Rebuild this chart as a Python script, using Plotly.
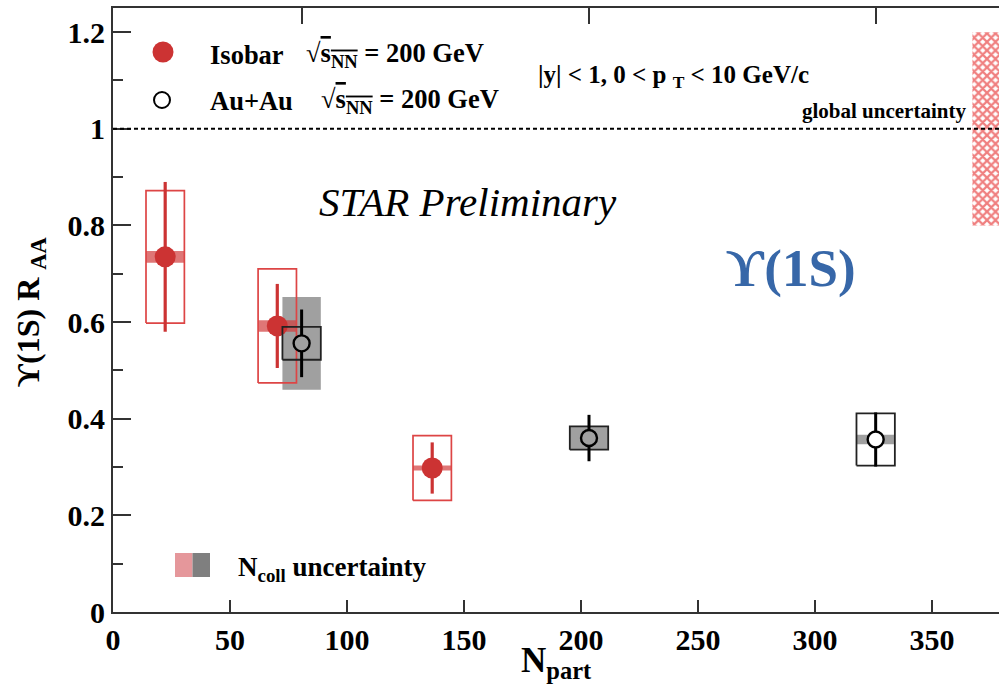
import plotly.graph_objects as go

# ---------------- data ----------------
iso_npart = [22.3, 70.2, 136.4]
iso_raa = [0.735, 0.592, 0.298]
iso_stat = [0.155, 0.087, 0.053]
iso_sys = [0.137, 0.118, 0.067]
iso_ncoll = [0.012, 0.012, 0.005]

au_npart = [80.6, 203.4, 325.9]
au_raa = [0.556, 0.360, 0.357]
au_stat = [0.070, 0.048, 0.056]
au_sys = [0.034, 0.024, 0.054]
au_ncoll = [0.096, 0.024, 0.010]

global_unc = [0.8, 1.2]          # low / high edge of global uncertainty band

x_ticks = [0, 50, 100, 150, 200, 250, 300, 350]
y_ticks = [0, 0.2, 0.4, 0.6, 0.8, 1.0, 1.2]

# ---------------- styles ----------------
FONT = "Liberation Serif"
RED = "#cc3333"
RED_BOX = "#dd4545"
RED_BAND = "rgba(210,60,60,0.7)"
GRAY_BAND = "#a0a0a0"
AXIS = "#333333"
BOX_HW = 8.2                     # half width of systematic boxes (Npart units)
X_MAX = 378.6
W, H = 999, 685
ML, MR, MT, MB = 113, 0, 8, 73
PW, PH = W - ML - MR, H - MT - MB


def px(xp):
    return (xp - ML) / PW


def py(yp):
    return (H - MB - yp) / PH


def rects(xs, ys, hws, hhs):
    X, Y = [], []
    for xc, yc, hw, hh in zip(xs, ys, hws, hhs):
        X += [xc - hw, xc + hw, xc + hw, xc - hw, xc - hw, None]
        Y += [yc - hh, yc - hh, yc + hh, yc + hh, yc - hh, None]
    return X, Y


hw_iso = [BOX_HW] * len(iso_npart)
hw_au = [BOX_HW] * len(au_npart)

fig = go.Figure()

# global uncertainty (hatched)
fig.add_trace(go.Bar(
    x=[373.5], y=[global_unc[1] - global_unc[0]], base=[global_unc[0]], width=[12.5],
    marker=dict(color="white", line=dict(width=0),
                pattern=dict(shape="x", fgcolor="#e00000", bgcolor="white", size=6, solidity=0.6)),
    showlegend=False, hoverinfo="skip"))

# Au+Au Ncoll band (gray)
bx, by = rects(au_npart, au_raa, hw_au, au_ncoll)
fig.add_trace(go.Scatter(x=bx, y=by, mode="lines", fill="toself", fillcolor=GRAY_BAND,
                         line=dict(width=0, color=GRAY_BAND), showlegend=False, hoverinfo="skip"))

# Isobar Ncoll band (light red)
bx, by = rects(iso_npart, iso_raa, hw_iso, iso_ncoll)
fig.add_trace(go.Scatter(x=bx, y=by, mode="lines", fill="toself", fillcolor=RED_BAND,
                         line=dict(width=0, color=RED_BAND), showlegend=False, hoverinfo="skip"))

# Isobar systematic boxes
bx, by = rects(iso_npart, iso_raa, hw_iso, iso_sys)
fig.add_trace(go.Scatter(x=bx, y=by, mode="lines", line=dict(width=1.7, color=RED_BOX),
                         showlegend=False, hoverinfo="skip"))

# Isobar points
fig.add_trace(go.Scatter(
    x=iso_npart, y=iso_raa, mode="markers",
    marker=dict(symbol="circle", size=21, color=RED, line=dict(width=0)),
    error_y=dict(type="data", array=iso_stat, color=RED, thickness=3.2, width=0),
    showlegend=False))

# Au+Au systematic boxes
bx, by = rects(au_npart, au_raa, hw_au, au_sys)
fig.add_trace(go.Scatter(x=bx, y=by, mode="lines", line=dict(width=1.8, color="#222222"),
                         showlegend=False, hoverinfo="skip"))

# Au+Au points (open circles)
au_fill = [GRAY_BAND if n > 0.02 else "white" for n in au_ncoll]
fig.add_trace(go.Scatter(
    x=au_npart, y=au_raa, mode="markers",
    marker=dict(symbol="circle", size=16, color=au_fill, line=dict(width=2.4, color="black")),
    error_y=dict(type="data", array=au_stat, color="black", thickness=3, width=0),
    showlegend=False))

# top-axis helper trace (for the top frame ticks)
fig.add_trace(go.Scatter(x=[None], y=[None], xaxis="x2", showlegend=False, hoverinfo="skip"))

shapes = [
    dict(type="line", xref="paper", x0=0, x1=1, yref="y", y0=1, y1=1, layer="above",
         line=dict(color="black", width=2, dash="4px,3px")),
    # legend keys
    dict(type="circle", xref="paper", yref="paper", xsizemode="pixel", ysizemode="pixel",
         xanchor=px(163), yanchor=py(52), x0=-10.5, x1=10.5, y0=-10.5, y1=10.5,
         fillcolor=RED, line=dict(width=0)),
    dict(type="circle", xref="paper", yref="paper", xsizemode="pixel", ysizemode="pixel",
         xanchor=px(162), yanchor=py(100), x0=-8, x1=8, y0=-8, y1=8,
         fillcolor="white", line=dict(width=2, color="black")),
    dict(type="rect", xref="paper", yref="paper", x0=px(175), x1=px(192.5), y0=py(577), y1=py(553),
         fillcolor="#e5979b", line=dict(width=0)),
    dict(type="rect", xref="paper", yref="paper", x0=px(192.5), x1=px(210), y0=py(577), y1=py(553),
         fillcolor="#7f7f7f", line=dict(width=0)),
]

sq = "√<span style='text-decoration:overline'>s<sub>NN</sub></span> = 200 GeV"


def ann(text, x, y, size, xanchor="left", yanchor="middle", color="black", angle=0):
    return dict(text=text, xref="paper", yref="paper", x=x, y=y, xanchor=xanchor, yanchor=yanchor,
                showarrow=False, textangle=angle, font=dict(family=FONT, size=size, color=color))


annotations = [
    ann("<b>Isobar</b>", px(208), py(55), 26.5),
    ann("<b>" + sq + "</b>", px(304), py(55), 26.5),
    ann("<b>Au+Au</b>", px(208), py(101), 26.5),
    ann("<b>" + sq + "</b>", px(319), py(101), 26.5),
    ann("<b>|y| &lt; 1, 0 &lt; p <sub>T</sub> &lt; 10 GeV/c</b>", px(536), py(77), 25),
    ann("<b>global uncertainty</b>", px(968), py(111), 21, xanchor="right"),
    ann("<i>STAR Preliminary</i>", px(317), py(202), 41),
    ann("<b>ϒ(1S)</b>", px(791), py(268), 53, xanchor="center", color="#3767a8"),
    ann("<b>N<sub>coll</sub> uncertainty</b>", px(236), py(569), 27),
    ann("<b>ϒ(1S) R <sub>AA</sub></b>", px(30), py(312), 32, xanchor="center", angle=-90),
    ann("<b>N<sub>part</sub></b>", 0.5, py(662), 35, xanchor="center"),
]

fig.update_layout(
    width=W, height=H, autosize=False,
    margin=dict(l=ML, r=MR, t=MT, b=MB, pad=0),
    paper_bgcolor="white", plot_bgcolor="white",
    barmode="overlay",
    font=dict(family=FONT, color="black"),
    xaxis=dict(range=[0, X_MAX], tickvals=x_ticks, ticks="inside", ticklen=12, tickwidth=1.5,
               tickcolor=AXIS, showline=True, linewidth=2, linecolor=AXIS, mirror=False,
               showgrid=False, zeroline=False,
               tickfont=dict(family=FONT, size=30, color="black", weight="bold")),
    xaxis2=dict(range=[0, X_MAX], overlaying="x", side="top", tickvals=au_npart, ticks="inside",
                ticklen=16, tickwidth=2, tickcolor=AXIS, showticklabels=False, showline=True,
                linewidth=2, linecolor=AXIS, showgrid=False, zeroline=False),
    yaxis=dict(range=[0, 1.25], tickvals=y_ticks, ticks="inside", ticklen=18, tickwidth=1.5,
               tickcolor=AXIS, showline=True, linewidth=2, linecolor=AXIS, mirror=False,
               showgrid=False, zeroline=False,
               minor=dict(dtick=0.1, ticks="inside", ticklen=10, tickwidth=1.5, tickcolor=AXIS, showgrid=False),
               tickfont=dict(family=FONT, size=30, color="black", weight="bold")),
    shapes=shapes,
    annotations=annotations,
)

fig.write_html("out.html")
